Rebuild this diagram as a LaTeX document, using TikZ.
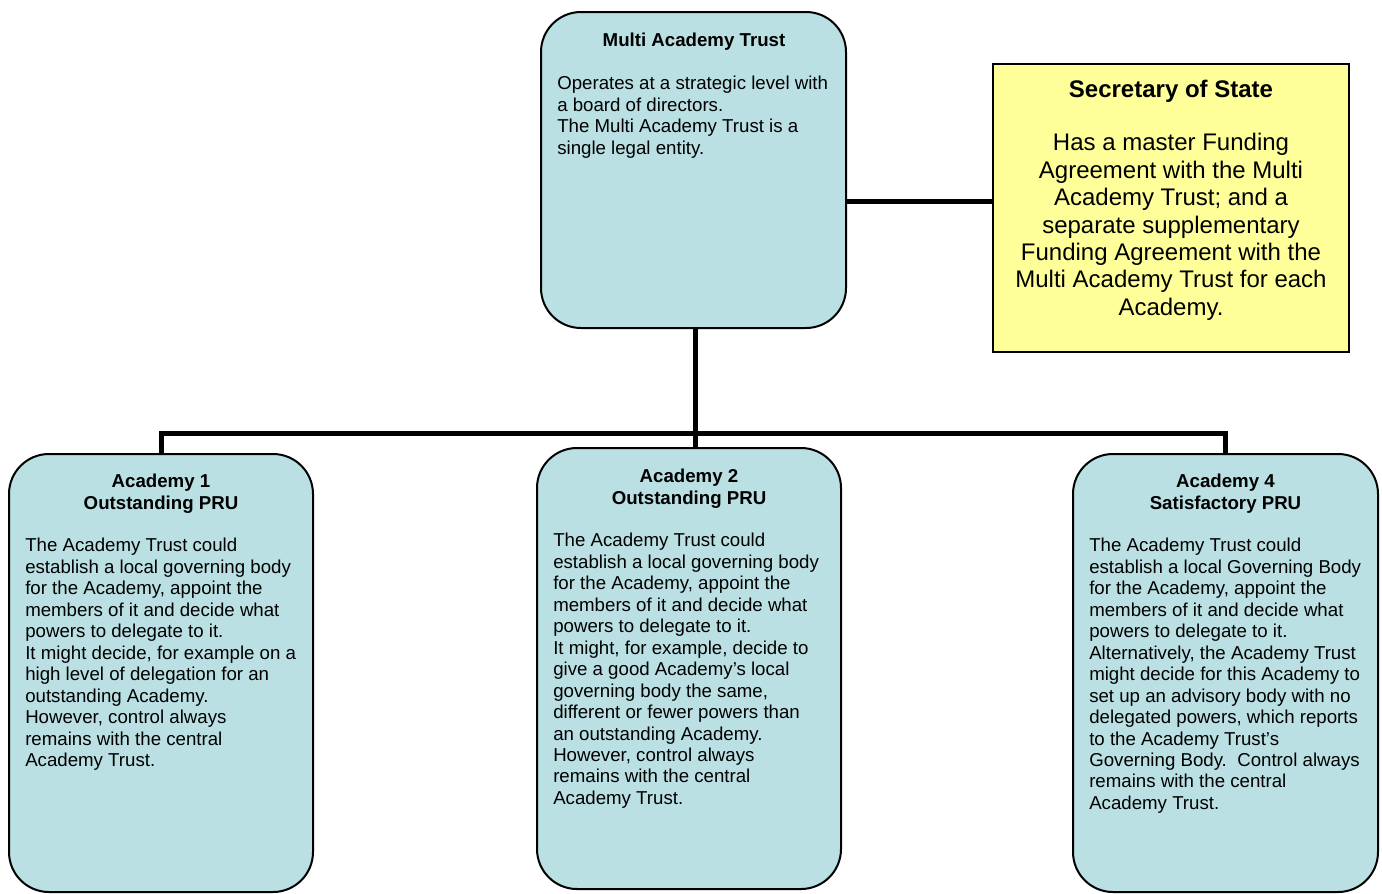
\documentclass[tikz,border=0pt]{standalone}
\usepackage{fontspec}
\setmainfont{Liberation Sans}
\usetikzlibrary{positioning}
\definecolor{trustblue}{HTML}{BAE0E3}
\definecolor{stateyellow}{HTML}{FFFF99}
\tikzset{
  trustbox/.style={draw,line width=1.5pt,fill=trustblue,rounded corners=30pt,inner sep=0pt},
  statebox/.style={draw,line width=1pt,fill=stateyellow,inner sep=0pt},
  boxtitle/.style={anchor=north,inner sep=0pt,align=center,font=\fontsize{14pt}{16.1pt}\selectfont\bfseries},
  boxtext/.style={anchor=north west,inner sep=0pt,align=left,font=\fontsize{14pt}{16.1pt}\selectfont},
  link/.style={line width=3.75pt}
}

\begin{document}
\begin{tikzpicture}[x=0.75pt,y=-0.75pt]
    \useasboundingbox (0,0) rectangle (1382,893);
    % boxes
    \node[trustbox,minimum width=228.75pt,minimum height=237pt] (mat) at (693.5,170) {};
    \node[statebox,minimum width=267pt,minimum height=216pt] (sos) at (1171,208) {};
    \node[trustbox,minimum width=228pt,minimum height=328.5pt] (ac1) at (161,673) {};
    \node[trustbox,minimum width=228pt,minimum height=330.75pt] (ac2) at (689,668.5) {};
    \node[trustbox,minimum width=228.75pt,minimum height=328.5pt] (ac4) at (1225.5,673) {};

    % connectors
    \coordinate (fundlink) at (920,201);
    \coordinate (bus) at (695,433);
    \draw[link] (mat.east |- fundlink) -- (sos.west |- fundlink);
    \draw[link] (mat.south -| bus) -- (bus);
    \draw[link] (ac1.north) |- (bus) -| (ac4.north);
    \draw[link] (bus) -- (bus |- ac2.north);

    % texts
    \node[boxtitle] (mattitle) at (694,33) {Multi Academy Trust};
    \node[boxtext] (mattext) at (557,76) {Operates at a strategic level with\\a board of directors.\\The Multi Academy Trust is a\\single legal entity.};

    \node[boxtitle,font=\fontsize{18pt}{20.6pt}\selectfont\bfseries] (sostitle) at (1171,80) {Secretary of State};
    \node[boxtitle,font=\fontsize{18pt}{20.6pt}\selectfont] (sostext) at (1171,133) {Has a master Funding\\Agreement with the Multi\\Academy Trust; and a\\separate supplementary\\Funding Agreement with the\\Multi Academy Trust for each\\Academy.};

    \node[boxtitle] (ac1title) at (161,474) {Academy 1\\Outstanding PRU};
    \node[boxtext] (ac1text) at (25,538) {The Academy Trust could\\establish a local governing body\\for the Academy, appoint the\\members of it and decide what\\powers to delegate to it.\\It might decide, for example on a\\high level of delegation for an\\outstanding Academy.\\However, control always\\remains with the central\\Academy Trust.};

    \node[boxtitle] (ac2title) at (689,469) {Academy 2\\Outstanding PRU};
    \node[boxtext] (ac2text) at (553,533) {The Academy Trust could\\establish a local governing body\\for the Academy, appoint the\\members of it and decide what\\powers to delegate to it.\\It might, for example, decide to\\give a good Academy’s local\\governing body the same,\\different or fewer powers than\\an outstanding Academy.\\However, control always\\remains with the central\\Academy Trust.};

    \node[boxtitle] (ac4title) at (1225.5,474) {Academy 4\\Satisfactory PRU};
    \node[boxtext] (ac4text) at (1089,538) {The Academy Trust could\\establish a local Governing Body\\for the Academy, appoint the\\members of it and decide what\\powers to delegate to it.\\Alternatively, the Academy Trust\\might decide for this Academy to\\set up an advisory body with no\\delegated powers, which reports\\to the Academy Trust’s\\Governing Body.\ \ Control always\\remains with the central\\Academy Trust.};
\end{tikzpicture}
\end{document}
